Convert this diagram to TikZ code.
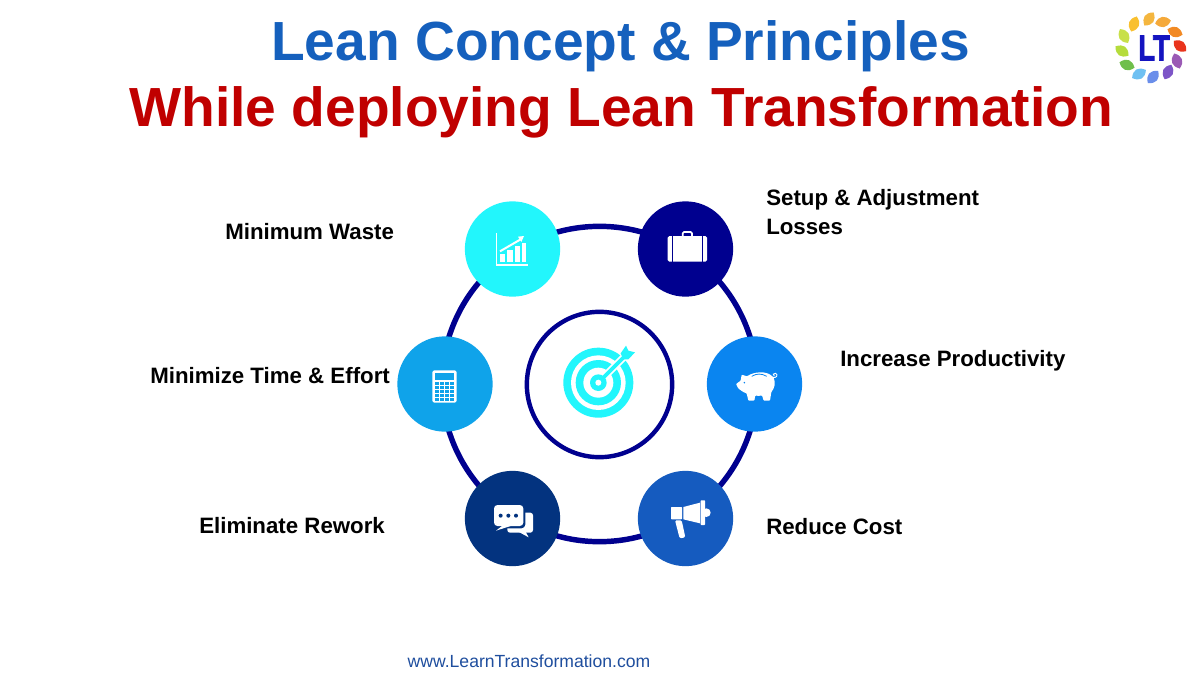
\documentclass[tikz,border=0pt]{standalone}
\usepackage{fontspec}
\setmainfont{Liberation Sans}
\newfontfamily\logofont[FakeBold=2.5]{Liberation Sans Bold}
\definecolor{navy}{HTML}{00008F}
\definecolor{cyanb}{HTML}{22F6FC}
\definecolor{calcb}{HTML}{0FA3EA}
\definecolor{pigb}{HTML}{0A85F0}
\definecolor{chatb}{HTML}{03337F}
\definecolor{megab}{HTML}{155BBF}
\definecolor{titleblue}{HTML}{1560BD}
\definecolor{titlered}{HTML}{C00000}
\definecolor{webblue}{HTML}{1F4E9E}
\definecolor{logoblue}{HTML}{1414C0}
\tikzset{
  hub/.style={circle,draw=none,minimum size=71.5pt,inner sep=0pt,outer sep=0pt},
  ringshape/.style={circle,draw=navy,fill=none,inner sep=0pt,outer sep=0pt},
  lbl/.style={font=\fontsize{16.7pt}{21.8pt}\selectfont\bfseries,text=black,inner sep=0pt,align=left},
  ttl/.style={font=\fontsize{41.35pt}{48pt}\selectfont\bfseries,inner sep=0pt,anchor=base},
  zoomed/.style={x=0.25pt,y=-0.25pt},
}
\newcommand{\petal}[4]{\fill[fill=#4,shift={(#1,#2)},rotate=#3] (-8,0) .. controls (-3,-7) and (3,-7) .. (8,0) .. controls (3,7) and (-3,7) .. (-8,0) -- cycle;}
\begin{document}
\begin{tikzpicture}[x=0.75pt,y=-0.75pt]
\useasboundingbox (0,0) rectangle (1200,675);
\fill[white] (0,0) rectangle (1200,675);
% titles
\node[ttl,text=titleblue] (title1) at (620.5,60.7) {Lean Concept \& Principles};
\node[ttl,text=titlered] (title2) at (621,126.7) {While deploying Lean Transformation};
% rings
\node[ringshape,line width=4.1pt,minimum size=236.5pt] (ring) at (599.5,384) {};
\node[ringshape,line width=3.3pt,minimum size=109pt] (inner) at (599.5,384.5) {};
% hubs
\node[hub,fill=cyanb] (waste) at (512.5,249) {};
\node[hub,fill=navy] (setup) at (685.5,249) {};
\node[hub,fill=pigb] (prod) at (754.5,384) {};
\node[hub,fill=megab] (cost) at (685.5,518.5) {};
\node[hub,fill=chatb] (rework) at (512.5,518.5) {};
\node[hub,fill=calcb] (time) at (445,384) {};
% labels
\node[lbl,anchor=west] (lwaste) at (225,232) {Minimum Waste};
\node[lbl,anchor=west] (lsetup) at (766,212.5) {Setup \& Adjustment\\Losses};
\node[lbl,anchor=west] (lprod) at (840,361) {Increase Productivity};
\node[lbl,anchor=west] (lcost) at (766,527) {Reduce Cost};
\node[lbl,anchor=west] (lrework) at (199,526) {Eliminate Rework};
\node[lbl,anchor=west] (ltime) at (150,376) {Minimize Time \& Effort};
\node[font=\fontsize{13.18pt}{16pt}\selectfont,text=webblue,inner sep=0pt] (web) at (529,661) {www.LearnTransformation.com};
% chart icon
\begin{scope}[shift={(450,190)},zoomed]
\draw[white,line width=1pt] (140,130) -- (140,225) -- (233,225);
\fill[white] (150,192) rectangle (165,216);
\fill[white] (172,180) rectangle (188,216);
\fill[white] (194,168) rectangle (210,216);
\fill[white] (215,158) rectangle (229,216);
\draw[white,line width=1.5pt] (150,184) -- (212,148);
\fill[white] (222,138) -- (204,140) -- (214,156) -- cycle;
\end{scope}
% briefcase icon
\begin{scope}[shift={(450,190)},zoomed]
\draw[white,line width=1.3pt,rounded corners=1pt] (698,142) -- (698,126) -- (726,126) -- (726,142);
\fill[white,rounded corners=1.2pt] (653,138) rectangle (771,215);
\fill[navy] (665,138) rectangle (668,215);
\fill[navy] (755,138) rectangle (758,215);
\end{scope}
% target icon
\begin{scope}[shift={(555,340)},zoomed]
\fill[cyanb] (130,128) circle[radius=105];
\fill[white] (130,128) circle[radius=82];
\fill[cyanb] (130,128) circle[radius=68];
\fill[white] (130,128) circle[radius=45];
\fill[cyanb] (130,128) circle[radius=25];
\draw[white,line width=5.5pt] (148,110) -- (212,46);
\draw[cyanb,line width=2.8pt] (130,128) -- (212,46);
\fill[white] (130,128) circle[radius=9];
\fill[cyanb] (197,40) -- (213,17) -- (220,32) -- (240,37) -- (220,58) -- (205,58) -- cycle;
\end{scope}
% calculator icon
\begin{scope}[shift={(390,300)},zoomed]
\fill[white,rounded corners=1.2pt] (127,211) rectangle (200,308);
\fill[calcb] (134,218) rectangle (193,240);
\foreach \cx in {134,149,164,179} \foreach \cy in {246,258,270,282,294}
  \fill[calcb] (\cx,\cy) rectangle +(12,9);
\end{scope}
% piggy icon
\begin{scope}[shift={(725,360)},zoomed]
\fill[white,rounded corners=0.6pt] (33,72) -- (47,62) -- (50,44) -- (66,49)
  .. controls (85,36) and (125,30) .. (145,52)
  .. controls (153,68) and (148,85) .. (139,96)
  -- (135,122) -- (116,122) -- (111,106)
  .. controls (103,108) and (97,108) .. (91,106)
  -- (88,122) -- (70,122) -- (65,100)
  .. controls (52,96) and (48,90) .. (40,86) -- cycle;
\draw[pigb,line width=0.6pt] (80,49) .. controls (95,40) and (110,40) .. (125,49);
\fill[pigb] (58,68) circle[radius=2.5];
\draw[white,line width=0.7pt] (142,52) .. controls (155,56) and (160,44) .. (152,40) .. controls (144,38) and (142,46) .. (148,48);
\end{scope}
% chat icon
\begin{scope}[shift={(450,460)},zoomed]
\fill[white,rounded corners=2pt] (172,158) rectangle (249,218);
\fill[white] (205,215) -- (236,232) -- (225,212) -- cycle;
\fill[chatb,rounded corners=3pt] (126,129) rectangle (226,205);
\fill[white,rounded corners=2.6pt] (132,135) rectangle (220,198);
\fill[white] (160,195) -- (138,212) -- (182,198) -- cycle;
\fill[chatb] (152,167) circle[radius=6];
\fill[chatb] (175,167) circle[radius=6];
\fill[chatb] (198,167) circle[radius=6];
\end{scope}
% megaphone icon
\begin{scope}[shift={(450,460)},zoomed]
\fill[white] (769,158) circle[radius=13];
\fill[white] (700,141) -- (750,128) -- (750,190) -- (700,178) -- cycle;
\fill[white,rounded corners=0.5pt] (752,121) rectangle (765,195);
\fill[white,rounded corners=0.5pt] (663,141) rectangle (696,178);
\fill[white,rounded corners=1pt] (675,181) -- (695,181) -- (706,232) -- (689,235) -- cycle;
\end{scope}
% logo
\definecolor{pa}{HTML}{F5A93A}\definecolor{pb}{HTML}{F4B63F}\definecolor{pc}{HTML}{F9C02F}
\definecolor{pd}{HTML}{C8E04A}\definecolor{pe}{HTML}{B5DC3C}\definecolor{pf}{HTML}{6FBF4B}
\definecolor{pg}{HTML}{6FC0F2}\definecolor{ph}{HTML}{6A8EEA}\definecolor{pi}{HTML}{7D55C7}
\definecolor{pj}{HTML}{9B5AB5}\definecolor{pk}{HTML}{E9341C}\definecolor{pl}{HTML}{F28A24}
\petal{1163}{22}{10}{pa}
\petal{1149}{19}{55}{pb}
\petal{1134}{24}{70}{pc}
\petal{1124}{36}{120}{pd}
\petal{1122}{51}{145}{pe}
\petal{1127}{65}{160}{pf}
\petal{1139}{74}{30}{pg}
\petal{1153}{77}{50}{ph}
\petal{1168}{72}{65}{pi}
\petal{1177}{61}{110}{pj}
\petal{1180}{46}{140}{pk}
\petal{1175}{32}{160}{pl}
\node[font=\logofont\fontsize{27pt}{28pt}\selectfont,text=logoblue,inner sep=0pt,xscale=0.76,transform shape] (logo) at (1154,48) {LT};
\end{tikzpicture}
\end{document}
